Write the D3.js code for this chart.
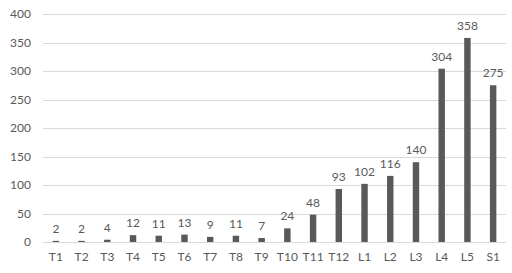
<!DOCTYPE html>
<html><head><meta charset="utf-8">
<script src="https://cdn.jsdelivr.net/npm/d3@7"></script>
<style>body{margin:0;background:#fff}svg{display:block}text{font-family:Lato,"Open Sans",sans-serif;fill:#595959}</style>
</head><body><svg id="c" width="512" height="273"></svg>
<script>
const categories = ["T1","T2","T3","T4","T5","T6","T7","T8","T9","T10","T11","T12","L1","L2","L3","L4","L5","S1"];
const values = [2,2,4,12,11,13,9,11,7,24,48,93,102,116,140,304,358,275];
const yTicks = [0,50,100,150,200,250,300,350,400];

const svg = d3.select("#c");
const m = {l:43, r:6, t:14, b:31};
const W = 512, H = 273;
const x = d3.scaleBand().domain(categories).range([m.l, W-m.r]).paddingInner(0.75).paddingOuter(0.375);
const y = d3.scaleLinear().domain([0,400]).range([H-m.b, m.t]);

svg.append("g").selectAll("line").data(yTicks).join("line")
  .attr("x1", m.l).attr("x2", W-m.r)
  .attr("y1", d=>Math.round(y(d))+0.5).attr("y2", d=>Math.round(y(d))+0.5)
  .attr("stroke", "#d9d9d9").attr("stroke-width", 1);

const yAxis = d3.axisLeft(y).tickValues(yTicks).tickSize(0).tickPadding(12);
svg.append("g").attr("transform",`translate(${m.l},0)`).call(yAxis)
  .call(g=>g.select(".domain").remove())
  .call(g=>g.selectAll("text").attr("font-size",12).style("fill","#595959"));

svg.append("g").selectAll("rect").data(values).join("rect")
  .attr("x",(d,i)=>x(categories[i])).attr("width",x.bandwidth())
  .attr("y",d=>y(d)).attr("height",d=>y(0)-y(d)).attr("fill","#595959");

svg.append("g").selectAll("text").data(values).join("text")
  .attr("x",(d,i)=>x(categories[i])+x.bandwidth()/2).attr("y",d=>y(d)-8)
  .attr("text-anchor","middle").attr("font-size",12).text(d=>d);

const xAxis = d3.axisBottom(x).tickSize(0).tickPadding(10);
svg.append("g").attr("transform",`translate(0,${y(0)})`).call(xAxis)
  .call(g=>g.select(".domain").attr("stroke","#d9d9d9"))
  .call(g=>g.selectAll("text").attr("font-size",12).style("fill","#595959"));
</script></body></html>
